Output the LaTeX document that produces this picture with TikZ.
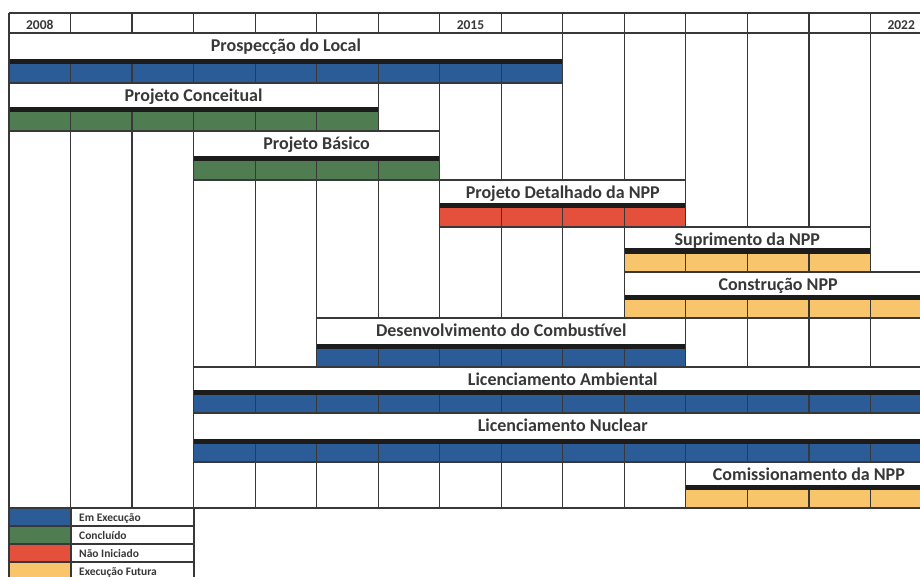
\documentclass[tikz,border=0pt]{standalone}
\usepackage{fontspec}
\setmainfont{Carlito}
\definecolor{cblue}{HTML}{2B5C98}
\definecolor{cgreen}{HTML}{4F7C50}
\definecolor{cred}{HTML}{E4503C}
\definecolor{cyellow}{HTML}{F8C46C}
\definecolor{gridc}{HTML}{383838}
\definecolor{txt}{HTML}{383838}
\definecolor{band}{HTML}{1C1C1C}
\begin{document}
\begin{tikzpicture}[x=1pt,y=-1pt,
  gridline/.style={draw=gridc,line width=1.2pt},
  tasklabel/.style={font=\bfseries\fontsize{18}{18}\selectfont,text=txt,anchor=base,inner sep=0pt},
  yearlabel/.style={font=\bfseries\fontsize{13.5}{13.5}\selectfont,text=txt,anchor=base,inner sep=0pt},
  leglabel/.style={font=\bfseries\fontsize{11.5}{11.5}\selectfont,text=txt,anchor=base west,inner sep=0pt}]
\useasboundingbox (0,0) rectangle (920,577);
\clip (0,0) rectangle (920,577);
\fill[white] (0,0) rectangle (920,577);
% grid
\foreach \j in {0,...,15}
  \draw[gridline] ({9+61.53*\j},13) -- ({9+61.53*\j},508);
\draw[gridline] (9,13) -- (932,13);
\draw[gridline] (9,33) -- (932,33);
\draw[gridline] (9,508) -- (932,508);
% years
\node[yearlabel] (y2008) at ({9+61.53*0.5},29.5) {2008};
\node[yearlabel] (y2015) at ({9+61.53*7.5},29.5) {2015};
\node[yearlabel] (y2022) at ({9+61.53*14.5},29.5) {2022};
% tasks
\foreach \r/\a/\b/\col/\lab/\nm in {
  0/0/9/cblue/{Prospecção do Local}/t0,
  1/0/6/cgreen/{Projeto Conceitual}/t1,
  2/3/7/cgreen/{Projeto Básico}/t2,
  3/7/11/cred/{Projeto Detalhado da NPP}/t3,
  4/10/14/cyellow/{Suprimento da NPP}/t4,
  5/10/15/cyellow/{Construção NPP}/t5,
  6/5/11/cblue/{Desenvolvimento do Combustível}/t6,
  7/3/15/cblue/{Licenciamento Ambiental}/t7,
  8/3/15/cblue/{Licenciamento Nuclear}/t8,
  9/11/15/cyellow/{Comissionamento da NPP}/t9}{
  \pgfmathsetmacro{\yt}{{33,83,131,180,227,272,318,367,413,462,508}[\r]}
  \pgfmathsetmacro{\yb}{{33,83,131,180,227,272,318,367,413,462,508}[\r+1]}
  \pgfmathsetmacro{\xl}{9+61.53*\a}
  \pgfmathsetmacro{\xr}{9+61.53*\b}
  \pgfmathsetmacro{\ybar}{\yb-18.5}
  \pgfmathsetmacro{\ydark}{\ybar-5}
  \pgfmathsetmacro{\xm}{(\xl+\xr)/2}
  \fill[white] (\xl,\yt) rectangle (\xr,\yb);
  \fill[\col] (\xl,\ybar) rectangle (\xr,\yb);
  \fill[band] (\xl,\ydark) rectangle (\xr,\ybar);
  \foreach \c in {\a,...,\b}
    \draw[gridline] ({9+61.53*\c},\ybar) -- ({9+61.53*\c},\yb);
  \draw[gridline] (\xl,\yt) rectangle (\xr,\yb);
  \node[tasklabel] (\nm) at (\xm,\yt+18.5) {\lab};
}
% legend
\foreach \i/\col/\lab/\nm in {0/cblue/{Em Execução}/l0,1/cgreen/{Concluído}/l1,2/cred/{Não Iniciado}/l2,3/cyellow/{Execução Futura}/l3}{
  \pgfmathsetmacro{\yt}{508+18*\i}
  \fill[\col] (9,\yt) rectangle (71,\yt+18);
  \draw[gridline] (9,\yt) rectangle (71,\yt+18);
  \draw[gridline] (71,\yt) rectangle (194,\yt+18);
  \node[leglabel] (\nm) at (79,\yt+13) {\lab};
}
\end{tikzpicture}
\end{document}
